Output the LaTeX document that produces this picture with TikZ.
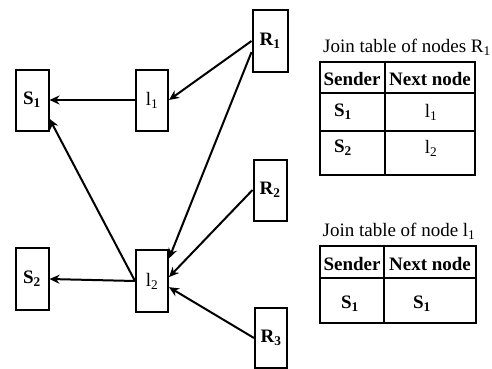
\documentclass[tikz,border=0pt]{standalone}
\usepackage{fontspec}
\setmainfont{Liberation Serif}
\usetikzlibrary{arrows.meta}

\tikzset{
	box/.style = {draw, line width=2pt, minimum width=33pt, minimum height=61pt, inner sep=0pt, font=\fontsize{19}{19}\selectfont\bfseries},
	link/.style = {line width=2pt, -{Stealth[length=10pt, width=9pt]}},
	cell/.style = {inner sep=0pt, font=\fontsize{19}{19}\selectfont\bfseries},
	grid/.style = {line width=2pt}
}

\begin{document}
\begin{tikzpicture}[x=1pt, y=-1pt]
		\useasboundingbox (0,0) rectangle (492,369);
		% network
		\node (S1) at (32,100) [box] {S\textsubscript{1}};
		\node (l1) at (152,100) [box, minimum width=32pt] {\mdseries l\textsubscript{1}};
		\node (R1) at (270,41) [box, minimum width=35pt] {R\textsubscript{1}};
		\node (R2) at (270,190) [box] {R\textsubscript{2}};
		\node (S2) at (32,279) [box, minimum height=62pt] {S\textsubscript{2}};
		\node (l2) at (152,281) [box, minimum width=32pt, minimum height=62pt] {\mdseries l\textsubscript{2}};
		\node (R3) at (271,338) [box, minimum width=32pt, minimum height=60pt] {R\textsubscript{3}};
		
		\draw [link] (l1.west) -- (S1.east);
		\draw [link] (R1.west) -- (l1.east);
		\draw [link] (R1.211) -- (l2.53);
		\draw [link] (R2.west) -- (l2.13);
		\draw [link] (R3.west) -- (l2.-20);
		\draw [link] (l2.west) -- (S1.-47);
		\draw [link] (l2.west) -- (S2.east);
		
		% join table of R1
		\node (T1) at (407,47) [font=\fontsize{19}{19}\selectfont] {Join table of nodes R\textsubscript{1}};
		\draw [grid] (320,62) rectangle (475,175);
		\draw [grid] (385,62) -- (385,175);
		\draw [grid] (320,93) -- (475,93);
		\draw [grid] (320,131) -- (475,131);
		\node (T1a) at (352,79) [cell] {Sender};
		\node (T1b) at (430,79) [cell] {Next node};
		\node (T1c) at (343,112) [cell] {S\textsubscript{1}};
		\node (T1d) at (431,112) [cell] {\mdseries l\textsubscript{1}};
		\node (T1e) at (343,148) [cell] {S\textsubscript{2}};
		\node (T1f) at (431,148) [cell] {\mdseries l\textsubscript{2}};
		
		% join table of l1
		\node (T2) at (399,231) [font=\fontsize{19}{19}\selectfont] {Join table of node l\textsubscript{1}};
		\draw [grid] (320,246) rectangle (476,323);
		\draw [grid] (384,246) -- (384,323);
		\draw [grid] (320,278) -- (476,278);
		\node (T2a) at (352,264) [cell] {Sender};
		\node (T2b) at (430,264) [cell] {Next node};
		\node (T2c) at (350,304) [cell] {S\textsubscript{1}};
		\node (T2d) at (422,304) [cell] {S\textsubscript{1}};
\end{tikzpicture}
\end{document}
